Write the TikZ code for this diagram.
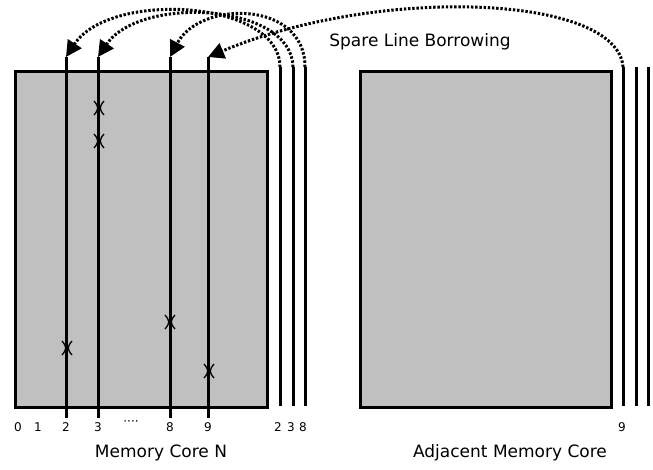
\documentclass[tikz,border=0pt]{standalone}
\usepackage{fontspec}
\setmainfont{DejaVu Sans}
\usetikzlibrary{arrows.meta}
\definecolor{coregray}{RGB}{192,192,192}
\begin{document}
\begin{tikzpicture}[x=1pt,y=-1pt,
  core/.style={draw=black, line width=3pt, fill=coregray},
  bitline/.style={line width=3pt},
  borrow/.style={line width=3pt, dash pattern=on 2.4pt off 1.8pt,
    -{Triangle[length=16pt,width=16pt]}},
  fault/.style={line width=1.3pt},
  idx/.style={font=\fontsize{12}{14}\selectfont, inner sep=0pt},
  caption/.style={font=\fontsize{17}{20}\selectfont, inner sep=0pt}
]
\useasboundingbox (0,0) rectangle (653,469);

% memory cores
\node[core, minimum width=252pt, minimum height=336pt, anchor=north west, inner sep=0pt] (coreN) at (14,70) {};
\node[core, minimum width=251pt, minimum height=336pt, anchor=north west, inner sep=0pt] (coreA) at (359,70) {};

% bit lines of core N
\foreach \n/\x in {2/66,3/98,8/170,9/208}{
  \coordinate (top\n) at (\x,57);
  \coordinate (bot\n) at (\x,418);
  \draw[bitline] (top\n) -- (bot\n);
}

% spare lines
\foreach \n/\x in {2/280,3/293,8/305,9/623}{
  \coordinate (stop\n) at (\x,67);
  \coordinate (sbot\n) at (\x,406);
  \draw[bitline] (stop\n) -- (sbot\n);
}
\coordinate (ra) at (636,67); \coordinate (rab) at (636,406);
\coordinate (rb) at (648,67); \coordinate (rbb) at (648,406);
\draw[bitline] (ra) -- (rab);
\draw[bitline] (rb) -- (rbb);

% borrowing arcs
\draw[borrow] (stop2) .. controls (280,0) and (110,-10) .. (top2);
\draw[borrow] (stop3) .. controls (292,3) and (140,-5) .. (top3);
\draw[borrow] (stop8) .. controls (305,0) and (200,0) .. (top8);
\draw[borrow] (stop9) .. controls (618,-5) and (380,-15) .. (top9);

% faulty cells
\foreach \x/\y in {99/108,99/141,67/348,170/322,209/371}{
  \draw[fault] (\x-5,\y-7) .. controls (\x,\y-1) and (\x,\y+1) .. (\x-5,\y+7);
  \draw[fault] (\x+5,\y-7) .. controls (\x,\y-1) and (\x,\y+1) .. (\x+5,\y+7);
}

% column indices
\foreach \t/\x in {0/18,1/38,2/66,3/98,8/170,9/208}{
  \node[idx] (i\t) at (\x,427) {\t};
}
\node[idx] (idots) at (131,423) {····};
\node[idx] (s2) at (278,427) {2};
\node[idx] (s3) at (291,427) {3};
\node[idx] (s8) at (303,427) {8};
\node[idx] (s9) at (622,427) {9};

% captions
\node[caption] (capN) at (161,453) {Memory Core N};
\node[caption] (capA) at (510,453) {Adjacent Memory Core};
\node[caption] (capB) at (420,42) {Spare Line Borrowing};
\end{tikzpicture}
\end{document}
